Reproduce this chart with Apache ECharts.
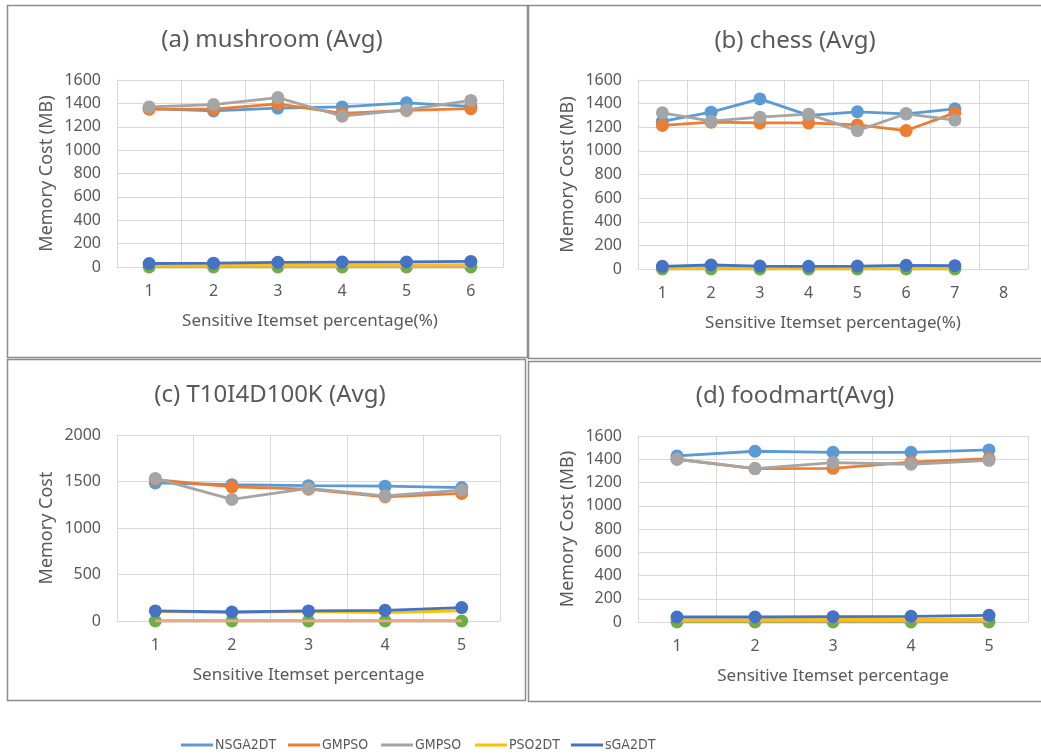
<!DOCTYPE html>
<html><head><meta charset="utf-8">
<script src="https://cdn.jsdelivr.net/npm/echarts@6/dist/echarts.min.js"></script>
<style>html,body{margin:0;padding:0;background:#fff}#c{width:1041px;height:756px}</style>
</head><body><div id="c"></div>
<script>
const legendNames = ['NSGA2DT', 'GMPSO', 'GMPSO ', 'PSO2DT', 'sGA2DT'];
const titles = ['(a) mushroom (Avg)', '(b) chess (Avg)', '(c) T10I4D100K (Avg)', '(d) foodmart(Avg)'];
const xNames = ['Sensitive Itemset percentage(%)', 'Sensitive Itemset percentage(%)', 'Sensitive Itemset percentage', 'Sensitive Itemset percentage'];
const yNames = ['Memory Cost (MB)', 'Memory Cost (MB)', 'Memory Cost', 'Memory Cost (MB)'];

const catsA = ['1', '2', '3', '4', '5', '6'];
const catsB = ['1', '2', '3', '4', '5', '6', '7', '8'];
const catsC = ['1', '2', '3', '4', '5'];
const catsD = ['1', '2', '3', '4', '5'];

// (a) mushroom
const nsgaA = [1355, 1335, 1360, 1370, 1405, 1375];
const gmpsoA = [1350, 1350, 1395, 1315, 1340, 1355];
const gmpso2A = [1370, 1390, 1450, 1290, 1345, 1425];
const pso2dtA = [12, 14, 16, 17, 18, 20];
const sga2dtA = [30, 33, 40, 42, 43, 48];
const greenA = [0, 0, 0, 0, 0, 0];
const salmonA = [5, 5, 5, 5, 5, 5];
// (b) chess
const nsgaB = [1250, 1328, 1440, 1300, 1331, 1314, 1356];
const gmpsoB = [1215, 1243, 1237, 1237, 1220, 1172, 1322];
const gmpso2B = [1322, 1251, 1285, 1311, 1172, 1314, 1260];
const pso2dtB = [8, 10, 9, 8, 9, 11, 10];
const sga2dtB = [23, 34, 25, 23, 25, 31, 28];
const greenB = [0, 0, 0, 0, 0, 0, 0];
const salmonB = [4, 4, 4, 4, 4, 4, 4];
// (c) T10I4D100K
const nsgaC = [1485, 1465, 1455, 1450, 1435];
const gmpsoC = [1520, 1443, 1418, 1336, 1372];
const gmpso2C = [1533, 1307, 1425, 1346, 1408];
const pso2dtC = [100, 92, 100, 90, 110];
const sga2dtC = [108, 97, 108, 115, 144];
const greenC = [0, 0, 0, 0, 0];
const salmonC = [0, 0, 0, 0, 0];
// (d) foodmart
const nsgaD = [1429, 1469, 1460, 1460, 1480];
const gmpsoD = [1400, 1320, 1322, 1375, 1406];
const gmpso2D = [1400, 1320, 1371, 1357, 1391];
const pso2dtD = [18, 20, 22, 22, 25];
const sga2dtD = [43, 43, 46, 49, 57];
const greenD = [0, 0, 0, 0, 0];
const salmonD = [8, 8, 8, 8, 8];

const cats = [catsA, catsB, catsC, catsD];
const panels = [
  [nsgaA, gmpsoA, gmpso2A, greenA, salmonA, pso2dtA, sga2dtA],
  [nsgaB, gmpsoB, gmpso2B, greenB, salmonB, pso2dtB, sga2dtB],
  [nsgaC, gmpsoC, gmpso2C, greenC, salmonC, pso2dtC, sga2dtC],
  [nsgaD, gmpsoD, gmpso2D, greenD, salmonD, pso2dtD, sga2dtD]
];
const seriesNames = ['NSGA2DT', 'GMPSO', 'GMPSO ', 'Series6', 'Series7', 'PSO2DT', 'sGA2DT'];
const seriesColors = ['#5B9BD5', '#ED7D31', '#A5A5A5', '#70AD47', '#EDA68B', '#FFC000', '#4472C4'];
const seriesSymbols = [true, true, true, true, false, false, true];

const yMax = [1600, 1600, 2000, 1600];
const yInt = [200, 200, 500, 200];
const grids = [
  {left: 117, top: 80, width: 386, height: 187},
  {left: 638, top: 80, width: 390, height: 189},
  {left: 117, top: 435, width: 383, height: 186},
  {left: 638, top: 436, width: 390, height: 186}
];
const titlePos = [[267, 23], [790, 24], [265, 378], [790, 379]];

const FONT = 'Noto Sans';
const TXT = '#595959';

const option = {
  animation: false,
  backgroundColor: '#fff',
  title: titles.map((t, i) => ({
    text: t, left: titlePos[i][0], top: titlePos[i][1], textAlign: 'center',
    textStyle: {fontFamily: FONT, fontSize: 24, fontWeight: 'normal', color: TXT}
  })),
  grid: grids.map(g => Object.assign({containLabel: false}, g)),
  xAxis: cats.map((c, i) => ({
    type: 'category', gridIndex: i, data: c, boundaryGap: true,
    name: xNames[i], nameLocation: 'middle', nameGap: 46,
    nameTextStyle: {fontFamily: FONT, fontSize: 17, color: TXT},
    axisLine: {lineStyle: {color: '#D9D9D9', width: 1}},
    axisTick: {show: false},
    axisLabel: {fontFamily: FONT, fontSize: 16, color: TXT, margin: 16},
    splitLine: {show: true, lineStyle: {color: '#D9D9D9', width: 1}}
  })),
  yAxis: cats.map((c, i) => ({
    type: 'value', gridIndex: i, min: 0, max: yMax[i], interval: yInt[i],
    name: yNames[i], nameLocation: 'middle', nameGap: 61,
    nameTextStyle: {fontFamily: FONT, fontSize: 18, color: TXT},
    axisLine: {show: true, lineStyle: {color: '#D9D9D9'}},
    axisTick: {show: false},
    axisLabel: {fontFamily: FONT, fontSize: 16, color: TXT, margin: 16, formatter: v => String(v)},
    splitLine: {show: true, lineStyle: {color: '#D9D9D9', width: 1}}
  })),
  legend: legendNames.map((n, i) => ({
    data: [n], left: [176, 283, 376, 470, 566][i], top: 733,
    icon: 'rect', itemWidth: 32, itemHeight: 3, itemGap: 0,
    textStyle: {fontFamily: 'DejaVu Sans Condensed, Noto Sans', fontSize: 14, color: TXT, padding: [0, 0, 0, -3]}
  })),
  series: [],
  graphic: [
    {type: 'rect', shape: {x: 7.5, y: 5.5, width: 520, height: 352}, style: {fill: 'none', stroke: '#8C8C8C', lineWidth: 1.5}, silent: true},
    {type: 'rect', shape: {x: 528.5, y: 5.5, width: 520, height: 353}, style: {fill: 'none', stroke: '#8C8C8C', lineWidth: 1.5}, silent: true},
    {type: 'rect', shape: {x: 7.5, y: 359.5, width: 518, height: 341}, style: {fill: 'none', stroke: '#8C8C8C', lineWidth: 1.5}, silent: true},
    {type: 'rect', shape: {x: 528.5, y: 361.5, width: 520, height: 340}, style: {fill: 'none', stroke: '#8C8C8C', lineWidth: 1.5}, silent: true}
  ]
};

panels.forEach((arrs, p) => {
  arrs.forEach((d, k) => {
    option.series.push({
      type: 'line', name: seriesNames[k], xAxisIndex: p, yAxisIndex: p, data: d,
      symbol: 'circle', symbolSize: 13, showSymbol: seriesSymbols[k],
      color: seriesColors[k],
      lineStyle: {width: 2.8, color: seriesColors[k]},
      itemStyle: {color: seriesColors[k]},
      z: 2 + k
    });
  });
});

const chart = echarts.init(document.getElementById('c'), null, {renderer: 'canvas'});
chart.setOption(option);
</script></body></html>
